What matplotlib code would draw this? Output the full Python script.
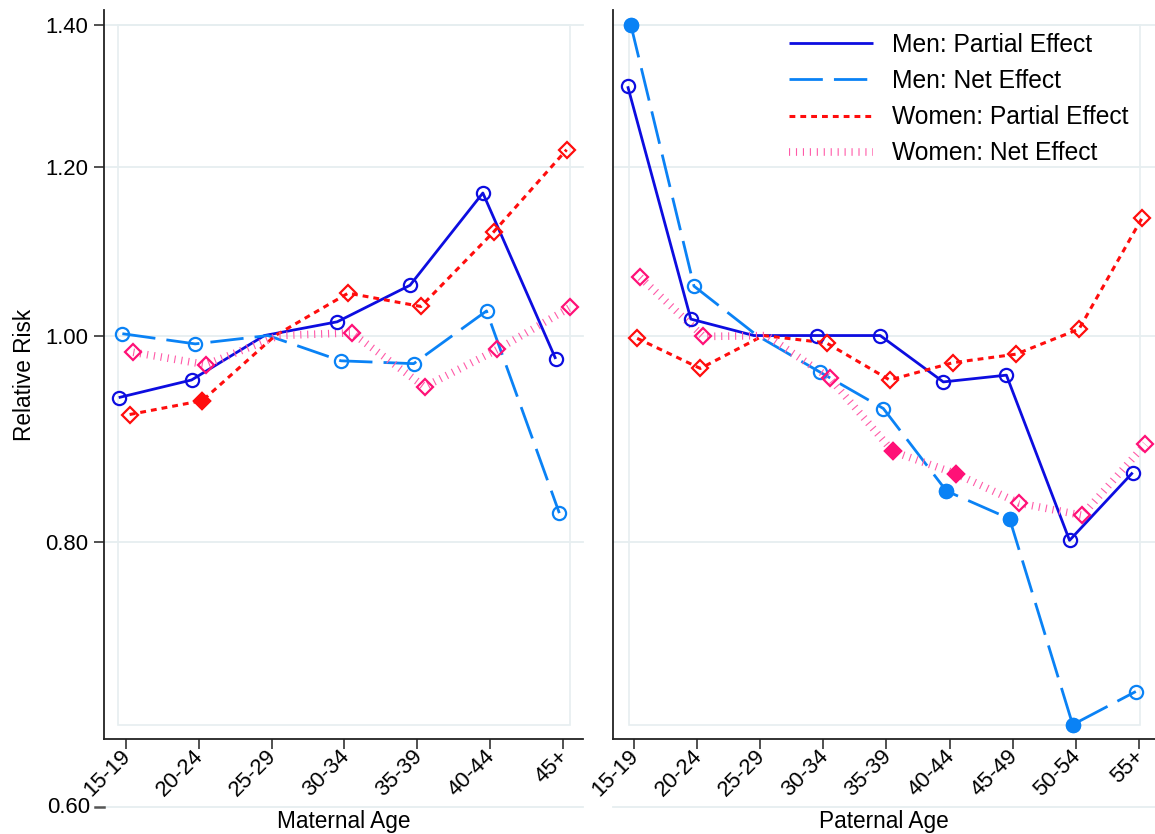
import numpy as np
import matplotlib
matplotlib.use("Agg")
import matplotlib.pyplot as plt
from matplotlib.lines import Line2D
from matplotlib.patches import Rectangle
import matplotlib.transforms as mtransforms

plt.rcParams["font.family"] = ["Liberation Sans", "DejaVu Sans"]
plt.rcParams["lines.scale_dashes"] = False
FS_LEG = 17.7
FS_TITLE = 16.3
FS_TICK = 15.9

# ---- data (relative risks, reference group 25-29 = 1.00) ----
mat_ages = ["15-19", "20-24", "25-29", "30-34", "35-39", "40-44", "45+"]
mat_men_partial = [0.935, 0.953, 1.000, 1.015, 1.056, 1.167, 0.975]
mat_men_net = [1.002, 0.991, 1.000, 0.973, 0.970, 1.027, 0.825]
mat_women_partial = [0.918, 0.932, 1.000, 1.047, 1.032, 1.119, 1.223]
mat_women_net = [0.982, 0.969, 1.000, 1.003, 0.946, 0.985, 1.031]
# filled marker = significant
mat_men_partial_sig = [0, 0, 0, 0, 0, 0, 0]
mat_men_net_sig = [0, 0, 0, 0, 0, 0, 0]
mat_women_partial_sig = [0, 1, 0, 0, 0, 0, 0]
mat_women_net_sig = [0, 0, 0, 0, 0, 0, 0]

pat_ages = ["15-19", "20-24", "25-29", "30-34", "35-39", "40-44", "45-49", "50-54", "55+"]
pat_men_partial = [1.310, 1.018, 1.000, 1.000, 1.000, 0.951, 0.958, 0.801, 0.862]
pat_men_net = [1.400, 1.055, 1.000, 0.961, 0.924, 0.845, 0.820, 0.656, 0.680]
pat_women_partial = [0.997, 0.965, 1.000, 0.992, 0.953, 0.971, 0.980, 1.007, 1.136]
pat_women_net = [1.065, 0.999, 1.000, 0.955, 0.882, 0.861, 0.834, 0.823, 0.889]
pat_men_partial_sig = [0, 0, 0, 0, 0, 0, 0, 0, 0]
pat_men_net_sig = [1, 0, 0, 0, 0, 1, 1, 1, 0]
pat_women_partial_sig = [0, 0, 0, 0, 0, 0, 0, 0, 0]
pat_women_net_sig = [0, 0, 0, 0, 1, 1, 0, 0, 0]

REF = 2  # reference category, drawn without marker
yticks = [0.60, 0.80, 1.00, 1.20, 1.40]
labels = ["Men: Partial Effect", "Men: Net Effect", "Women: Partial Effect", "Women: Net Effect"]

GRID = "#e6eef0"
STY = [
    dict(color="#0d0de0", lw=2.0, dashes=None, marker="o", ms=9.5, off=-0.10),
    dict(color="#0a82f5", lw=2.0, dashes=(24, 8), marker="o", ms=9.5, off=-0.05),
    dict(color="#ff0d0d", lw=2.2, dashes=(4.2, 3.6), marker="D", ms=8.5, off=0.05),
    dict(color="#ff5aa8", lw=5.5, dashes=(0.8, 4.2), marker="D", ms=8.5, off=0.10, mcol="#ff1177"),
]

fig = plt.figure(figsize=(11.55, 8.34), dpi=100)
axL = fig.add_axes([104 / 1155, 95 / 834, 479 / 1155, 729 / 834])
axR = fig.add_axes([613 / 1155, 95 / 834, 542 / 1155, 729 / 834])


def panel(ax, cats, series, sigs, xlim, xlabel, show_y):
    x = np.arange(len(cats))
    ax.set_yscale("log")
    ax.set_ylim(0.6459, 1.4229)
    ax.set_xlim(*xlim)
    tr = mtransforms.blended_transform_factory(ax.transAxes, ax.transData)
    for yv in yticks:
        ax.plot([0, 1], [yv, yv], color=GRID, lw=1.3, transform=tr, clip_on=False, zorder=0)
    ax.add_patch(Rectangle((0.029, 0.019), 0.944, 0.96, transform=ax.transAxes,
                           fill=False, ec=GRID, lw=1.2, zorder=0))
    keep = [i for i in range(len(cats)) if i != REF]
    for vals, sig, s in zip(series, sigs, STY):
        xs = x + s["off"]
        mc = s.get("mcol", s["color"])
        ln, = ax.plot(xs, vals, color=s["color"], lw=s["lw"], solid_capstyle="butt",
                      dash_capstyle="butt", zorder=2)
        if s["dashes"]:
            ln.set_dashes(s["dashes"])
        ax.plot(xs, vals, ls="none", marker=s["marker"], ms=s["ms"], mfc="none",
                mec=mc, mew=1.6, markevery=keep, zorder=3)
        sel = np.array(sig, bool)
        ax.plot(xs[sel], np.array(vals)[sel], ls="none", marker=s["marker"], ms=s["ms"],
                mfc=mc, mec=mc, mew=1.6, zorder=3)
    ax.set_xticks(x)
    ax.set_xticklabels(cats, rotation=45, ha="right", va="center_baseline",
                       rotation_mode="anchor", fontsize=FS_TICK)
    ax.tick_params(axis="x", length=7, width=1.2, color="#333333", pad=2)
    ax.set_xlabel(xlabel, fontsize=FS_TITLE)
    ax.xaxis.set_label_coords(0.5, -0.097)
    ax.yaxis.set_minor_locator(matplotlib.ticker.NullLocator())
    for sp in ("top", "right"):
        ax.spines[sp].set_visible(False)
    for sp in ("bottom", "left"):
        ax.spines[sp].set_color("#222222")
        ax.spines[sp].set_linewidth(1.3)
    if show_y:
        inside = [v for v in yticks if v > 0.6459]
        ax.set_yticks(inside)
        ax.set_yticklabels([f"{v:.2f}" for v in inside], fontsize=FS_TICK)
        ax.tick_params(axis="y", length=7, width=1.2, color="#333333", pad=4)
        # tick that Stata places below the plot region
        ax.plot([-0.019, 0], [yticks[0], yticks[0]], color="#555555", lw=1.8,
                transform=tr, clip_on=False)
        ax.text(-0.029, yticks[0], f"{yticks[0]:.2f}", transform=tr, ha="right",
                va="center", fontsize=FS_TICK, clip_on=False)
        ax.set_ylabel("Relative Risk", fontsize=FS_TITLE)
        ax.yaxis.set_label_coords(-0.142, 0.5)
    else:
        ax.set_yticks([])
        ax.tick_params(axis="y", length=0)


panel(axL, mat_ages, [mat_men_partial, mat_men_net, mat_women_partial, mat_women_net],
      [mat_men_partial_sig, mat_men_net_sig, mat_women_partial_sig, mat_women_net_sig],
      (-0.302, 6.275), "Maternal Age", True)
panel(axR, pat_ages, [pat_men_partial, pat_men_net, pat_women_partial, pat_women_net],
      [pat_men_partial_sig, pat_men_net_sig, pat_women_partial_sig, pat_women_net_sig],
      (-0.333, 8.254), "Paternal Age", False)

handles = []
for s in STY:
    h = Line2D([], [], color=s["color"], lw=s["lw"], solid_capstyle="butt", dash_capstyle="butt")
    if s["dashes"]:
        h.set_dashes(s["dashes"])
    handles.append(h)
axR.legend(handles, labels, loc="upper left", bbox_to_anchor=(0.325, 0.969), frameon=False,
           fontsize=FS_LEG, handlelength=3.4, handletextpad=0.8, labelspacing=0.5,
           borderpad=0, borderaxespad=0)

fig.savefig("out.png", dpi=100)
